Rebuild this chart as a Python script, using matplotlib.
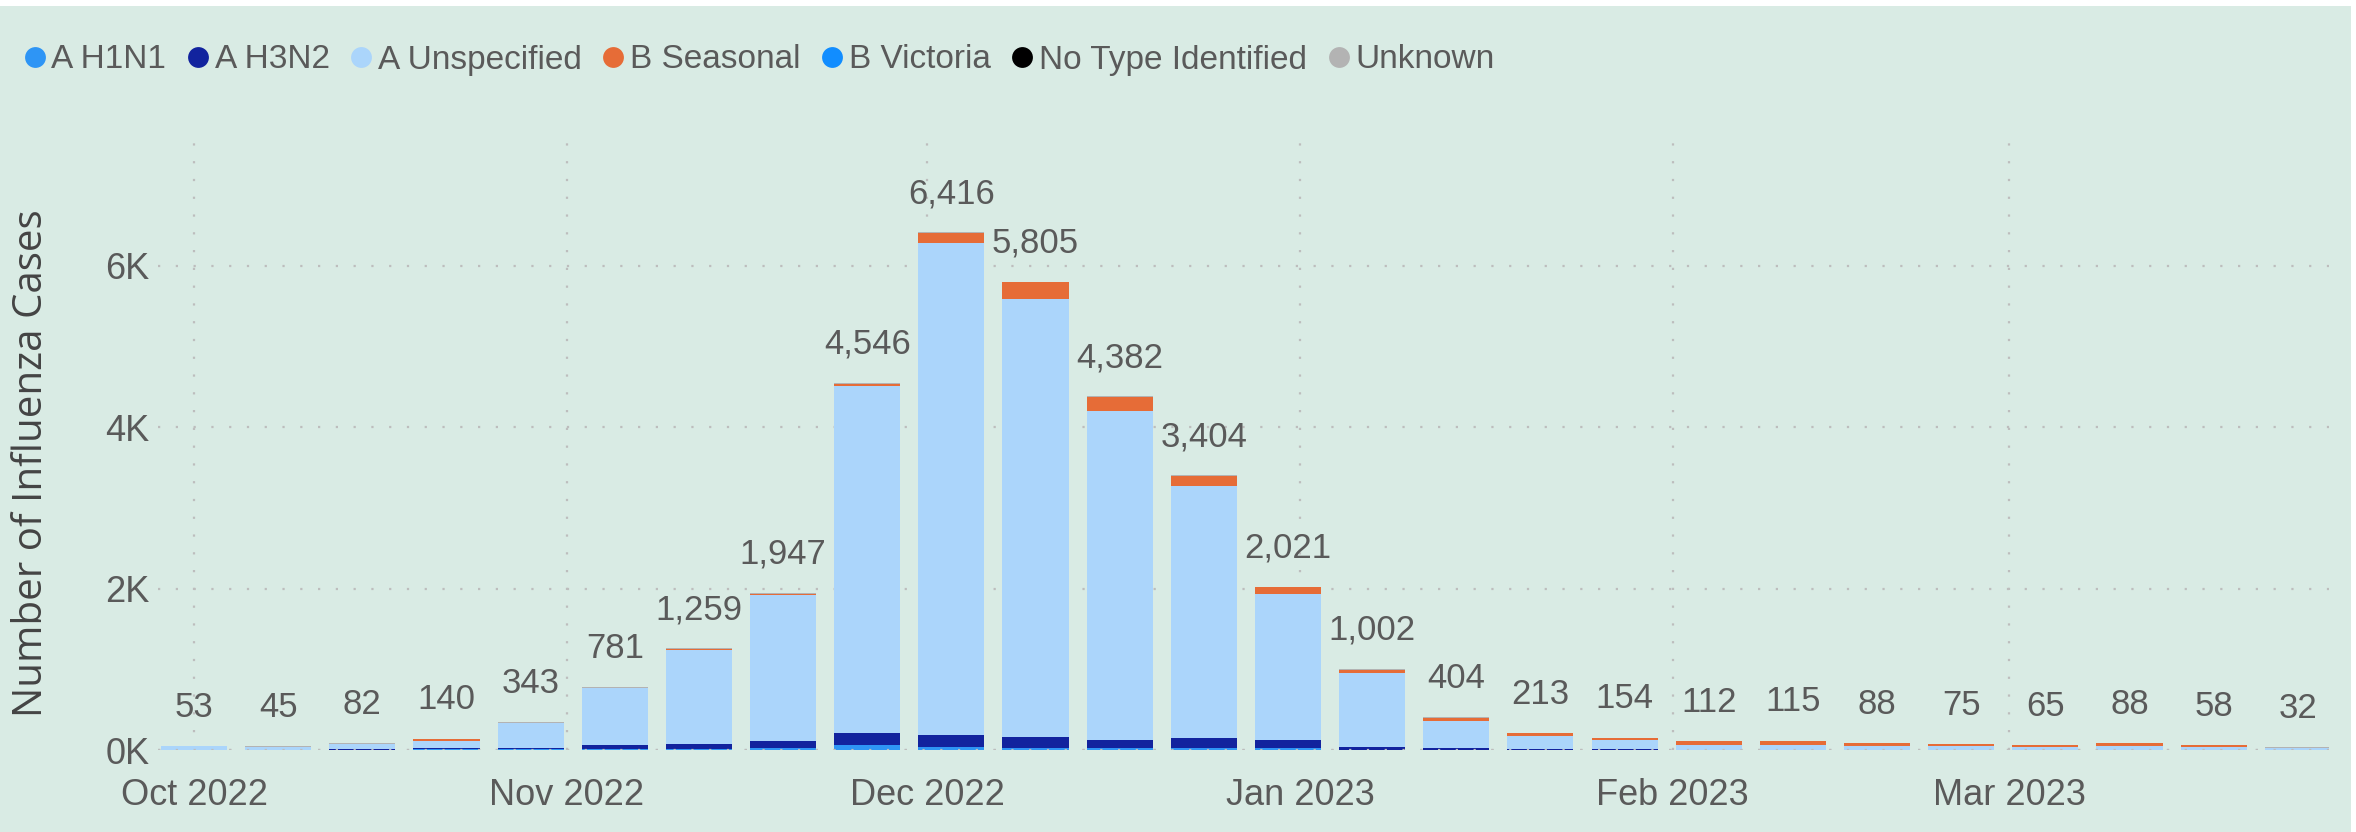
import matplotlib
matplotlib.use("Agg")
import matplotlib.pyplot as plt
import matplotlib.dates as mdates
from matplotlib.lines import Line2D
from matplotlib.patches import Rectangle
from matplotlib.ticker import FixedLocator
import numpy as np
import pandas as pd

# ---------------- data ----------------
week_start = "2022-10-01"
n_weeks = 26
series_names = ["A H1N1", "A H3N2", "A Unspecified", "B Seasonal",
                "B Victoria", "No Type Identified", "Unknown"]
series_colors = ["#2E95F5", "#12239E", "#ABD5FB", "#E66C37",
                 "#118DFF", "#000000", "#B3B3B3"]

a_h1n1 = [3, 2, 4, 8, 10, 12, 15, 20, 60, 40, 30, 25, 25, 20, 5, 4, 3, 2, 2, 2, 1, 1, 1, 1, 1, 0]
a_h3n2 = [2, 3, 3, 12, 20, 55, 60, 95, 155, 150, 130, 100, 128, 100, 37, 15, 8, 5, 3, 3, 2, 2, 1, 2, 1, 1]
a_unspecified = [40, 36, 70, 90, 300, 698, 1164, 1810, 4296, 6097, 5435, 4072, 3121, 1816, 910,
                 342, 162, 112, 57, 59, 52, 41, 31, 47, 29, 18]
b_seasonal = [5, 2, 3, 28, 8, 8, 10, 12, 25, 124, 205, 180, 125, 80, 45, 40, 38, 33, 45, 45, 30, 25, 30, 35, 25, 10]
b_victoria = [0] * 26
no_type = [0] * 26
unknown = [3, 2, 2, 2, 5, 8, 10, 10, 10, 5, 5, 5, 5, 5, 5, 3, 2, 2, 5, 6, 3, 6, 2, 3, 2, 3]

y_ticks = [0, 2000, 4000, 6000]
y_tick_labels = ["0K", "2K", "4K", "6K"]
month_ticks = ["2022-10-01", "2022-11-01", "2022-12-01", "2023-01-01", "2023-02-01", "2023-03-01"]
month_labels = ["Oct 2022", "Nov 2022", "Dec 2022", "Jan 2023", "Feb 2023", "Mar 2023"]

# ---------------- style ----------------
BG = "#D9EBE4"
TXT = "#5A5A5A"
GRID = "#BDBDBD"
NARROW = ["Liberation Sans", "DejaVu Sans"]

W, H, DPI = 2356, 832, 100
fig = plt.figure(figsize=(W / DPI, H / DPI), dpi=DPI, facecolor=BG)
fig.patches.append(Rectangle((0, 1 - 6 / H), 1, 6 / H, transform=fig.transFigure,
                             facecolor="white", edgecolor="none", zorder=0))
fig.patches.append(Rectangle((1 - 5 / W, 0), 5 / W, 1, transform=fig.transFigure,
                             facecolor="white", edgecolor="none", zorder=0))

ax = fig.add_axes([158 / W, 1 - 750 / H, (2329 - 158) / W, (750 - 140) / H])
ax.set_facecolor(BG)

dates = pd.date_range(week_start, periods=n_weeks, freq="7D")
xnum = mdates.date2num(dates)
series = [a_h1n1, a_h3n2, a_unspecified, b_seasonal, b_victoria, no_type, unknown]

bottom = np.zeros(n_weeks)
for name, vals, col in zip(series_names, series, series_colors):
    v = np.array(vals, dtype=float)
    ax.bar(xnum, v, width=5.5, bottom=bottom, color=col, edgecolor="none",
           zorder=3, label=name)
    bottom += v

totals = bottom
for x, t in zip(xnum, totals):
    ax.annotate(f"{int(t):,}", xy=(x, t), xytext=(0, 16), textcoords="offset points",
                ha="center", va="bottom", fontsize=25, color=TXT, family=NARROW, zorder=5)

ax.set_xlim(xnum[0] - 3, xnum[-1] + 2.6)
ax.set_ylim(0, 7560)

mt = mdates.date2num(pd.to_datetime(month_ticks))
ax.xaxis.set_major_locator(FixedLocator(mt))
ax.set_xticklabels(month_labels)
ax.yaxis.set_major_locator(FixedLocator(y_ticks))
ax.set_yticklabels(y_tick_labels)
ax.grid(True, which="major", color=GRID, linewidth=1.6, linestyle=(0, (1, 7)), zorder=1)
ax.axhline(0, color=GRID, linewidth=1.6, linestyle=(0, (1, 7)), zorder=4)

for s in ax.spines.values():
    s.set_visible(False)
ax.tick_params(axis="both", length=0, colors=TXT)
ax.tick_params(axis="x", pad=20)
ax.tick_params(axis="y", pad=6)
for lab in ax.get_xticklabels() + ax.get_yticklabels():
    lab.set_fontsize(26)
    lab.set_family(NARROW)
    lab.set_color(TXT)

ax.set_ylabel("Number of Influenza Cases", fontsize=29, color="#444444",
              family=["Open Sans", "DejaVu Sans"])
ax.yaxis.set_label_coords(52 / W, 1 - 463 / H, transform=fig.transFigure)

handles = [Line2D([0], [0], marker="o", linestyle="none", markersize=15,
                  markerfacecolor=c, markeredgecolor="none") for c in series_colors]
leg = fig.legend(handles, series_names, loc="center left", bbox_to_anchor=(18 / W, 1 - 60 / H),
                 ncol=7, frameon=False, handletextpad=0.0, columnspacing=0.45,
                 handlelength=1.0, borderaxespad=0, borderpad=0,
                 prop={"family": NARROW, "size": 24})
for t in leg.get_texts():
    t.set_color(TXT)

fig.savefig("out.png", dpi=DPI, facecolor=BG)
